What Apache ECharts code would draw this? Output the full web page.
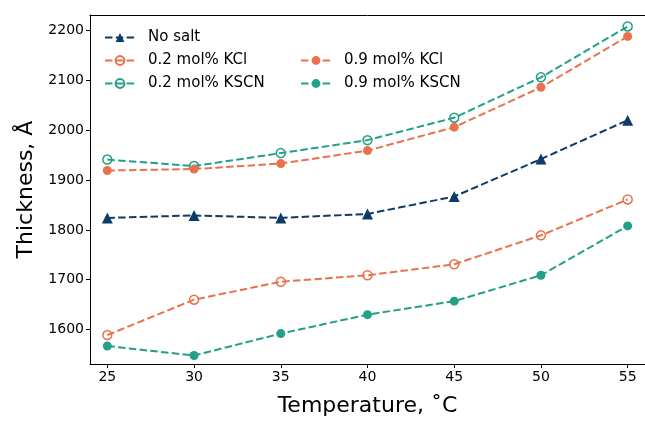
<!DOCTYPE html>
<html>
<head>
<meta charset="utf-8">
<script src="https://cdn.jsdelivr.net/npm/echarts@6/dist/echarts.min.js"></script>
<style>
  html, body { margin: 0; padding: 0; background: #fff; }
  #chart { width: 645px; height: 422px; }
</style>
</head>
<body>
<div id="chart"></div>
<script>
// temperatures (°C)
const temps = [25, 30, 35, 40, 45, 50, 55]

// film thickness (Å)
const noSalt = [1824, 1829, 1824, 1832, 1867, 1942, 2020]
const kcl02 = [1589, 1660, 1696, 1709, 1731, 1789, 1861]
const kscn02 = [1941, 1928, 1954, 1980, 2025, 2106, 2208]
const kcl09 = [1919, 1922, 1933, 1959, 2006, 2086, 2188]
const kscn09 = [1567, 1548, 1592, 1630, 1657, 1709, 1808]

const xTicks = [25, 30, 35, 40, 45, 50, 55]
const yTicks = [1600, 1700, 1800, 1900, 2000, 2100, 2200]

const navy = '#0b3b66'
const orange = '#e9724c'
const teal = '#22a088'
const font = 'DejaVu Sans'

function pairs(ys) {
  return temps.map((t, i) => [t, ys[i]])
}

function makeSeries(name, ys, color, symbol, hollow) {
  return {
    name: name,
    type: 'line',
    data: pairs(ys),
    symbol: symbol,
    symbolSize: symbol === 'triangle' ? 11 : 9,
    lineStyle: { color: color, width: 2, type: [7.5, 3.3] },
    itemStyle: hollow
      ? { color: 'transparent', borderColor: color, borderWidth: 1.5 }
      : { color: color, borderWidth: 0 },
    emphasis: { disabled: true },
    z: 3
  }
}

const chart = echarts.init(document.getElementById('chart'))

const legendBase = {
  orient: 'vertical',
  padding: 0,
  itemWidth: 30,
  itemHeight: 11,
  itemGap: 8,
  textStyle: { fontFamily: font, fontSize: 15, color: '#000', padding: [0, 0, 0, 8] }
}

const axisFont = { fontFamily: font, fontSize: 14, color: '#000' }

chart.setOption({
  animation: false,
  grid: {
    left: 90,
    top: 15,
    width: 557,
    height: 354
  },
  legend: [
    { ...legendBase, left: 104, top: 30, data: ['No salt', '0.2 mol% KCl', '0.2 mol% KSCN'] },
    { ...legendBase, left: 300, top: 53, data: ['0.9 mol% KCl', '0.9 mol% KSCN'] }
  ],
  xAxis: [
    {
      type: 'value',
      min: 24,
      max: 56,
      name: 'Temperature, ˚C',
      nameLocation: 'middle',
      nameGap: 31,
      nameTextStyle: { fontFamily: font, fontSize: 22, color: '#000' },
      axisLine: { lineStyle: { color: '#000', width: 1 } },
      axisTick: { show: true, length: 4, customValues: xTicks, lineStyle: { color: '#000' } },
      axisLabel: { ...axisFont, customValues: xTicks, margin: 6 },
      splitLine: { show: false }
    },
    {
      // top spine only
      type: 'value',
      position: 'top',
      min: 24,
      max: 56,
      axisLine: { show: true, lineStyle: { color: '#000', width: 1 } },
      axisTick: { show: false },
      axisLabel: { show: false },
      splitLine: { show: false }
    }
  ],
  yAxis: {
    type: 'value',
    min: 1531,
    max: 2231,
    name: 'Thickness, Å',
    nameLocation: 'middle',
    nameGap: 51,
    nameTextStyle: { fontFamily: font, fontSize: 22, color: '#000' },
    axisLine: { show: true, lineStyle: { color: '#000', width: 1 } },
    axisTick: { show: true, length: 4, customValues: yTicks, lineStyle: { color: '#000' } },
    axisLabel: { ...axisFont, customValues: yTicks, margin: 6, formatter: v => String(v) },
    splitLine: { show: false }
  },
  series: [
    makeSeries('No salt', noSalt, navy, 'triangle', false),
    makeSeries('0.2 mol% KCl', kcl02, orange, 'circle', true),
    makeSeries('0.2 mol% KSCN', kscn02, teal, 'circle', true),
    makeSeries('0.9 mol% KCl', kcl09, orange, 'circle', false),
    makeSeries('0.9 mol% KSCN', kscn09, teal, 'circle', false)
  ]
})
</script>
</body>
</html>
